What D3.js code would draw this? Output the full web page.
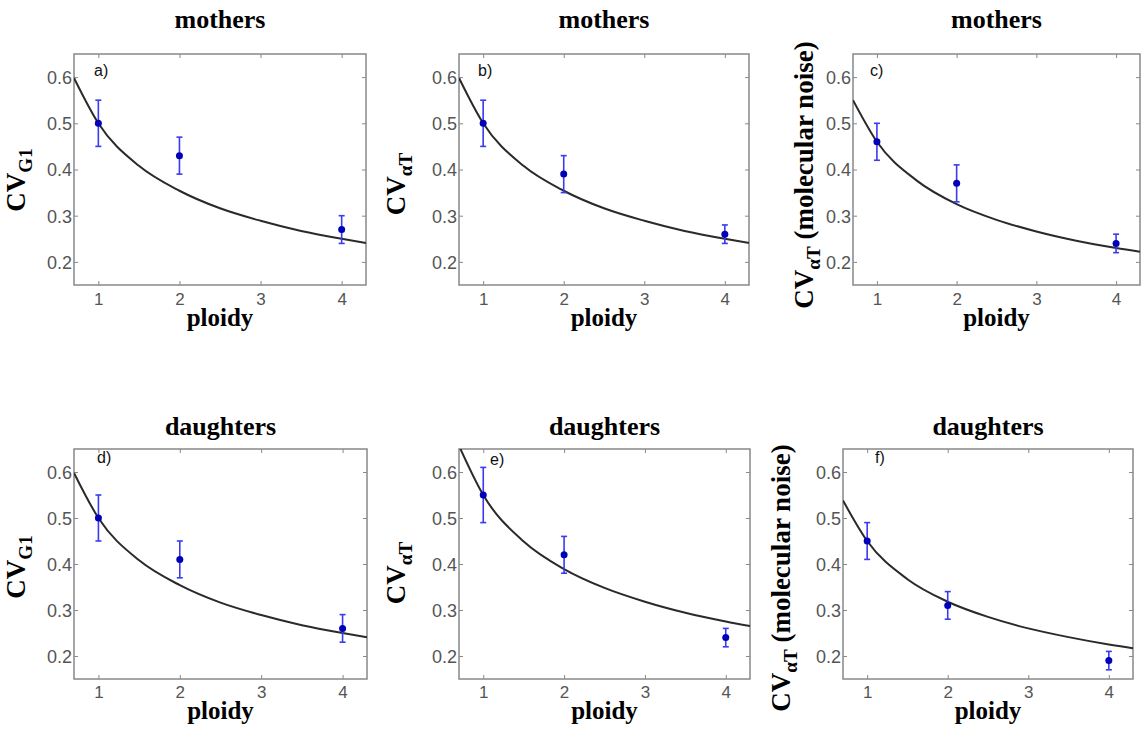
<!DOCTYPE html>
<html>
<head>
<meta charset="utf-8">
<script src="https://cdn.jsdelivr.net/npm/d3@7"></script>
<style>
  body { margin: 0; background: #fff; }
  svg { display: block; }
</style>
</head>
<body>
<div id="chart"></div>
<script>
// ---- data ----
const panelIds = ['a', 'b', 'c', 'd', 'e', 'f'];
const panelTitles = ['mothers', 'mothers', 'mothers', 'daughters', 'daughters', 'daughters'];
const ySubs = ['G1', 'αT', 'αT', 'G1', 'αT', 'αT'];
const yExtras = ['', '', ' (molecular noise)', '', '', ' (molecular noise)'];

const ploidy = [1, 2, 4];
// measured means, lower and upper error limits, per panel
const means = [
  [0.50, 0.43, 0.27],
  [0.50, 0.39, 0.26],
  [0.46, 0.37, 0.24],
  [0.50, 0.41, 0.26],
  [0.55, 0.42, 0.24],
  [0.45, 0.31, 0.19]
];
const lows = [
  [0.45, 0.39, 0.24],
  [0.45, 0.35, 0.24],
  [0.42, 0.33, 0.22],
  [0.45, 0.37, 0.23],
  [0.49, 0.38, 0.22],
  [0.41, 0.28, 0.17]
];
const highs = [
  [0.55, 0.47, 0.30],
  [0.55, 0.43, 0.28],
  [0.50, 0.41, 0.26],
  [0.55, 0.45, 0.29],
  [0.61, 0.46, 0.26],
  [0.49, 0.34, 0.21]
];

// fitted curve
const curveX = [0.7, 1, 1.5, 2, 2.5, 3, 3.5, 4, 4.3];
const curveY = [
  [0.598, 0.500, 0.408, 0.354, 0.316, 0.289, 0.267, 0.250, 0.241],
  [0.598, 0.500, 0.408, 0.354, 0.316, 0.289, 0.267, 0.250, 0.241],
  [0.550, 0.460, 0.376, 0.325, 0.291, 0.266, 0.246, 0.230, 0.222],
  [0.598, 0.500, 0.408, 0.354, 0.316, 0.289, 0.267, 0.250, 0.241],
  [0.657, 0.550, 0.449, 0.389, 0.348, 0.318, 0.294, 0.275, 0.265],
  [0.538, 0.450, 0.367, 0.318, 0.285, 0.260, 0.241, 0.225, 0.217]
];

const xTicks = [1, 2, 3, 4];
const yTicks = [0.2, 0.3, 0.4, 0.5, 0.6];

// ---- layout (pixels) ----
const layout = [
  {l: 74,  r: 366,  t: 54,  b: 285, titleY: 28,  xlabY: 326, tickY: 305, labX: 20, labY: 22, ylX: 25,  ylY: 180},
  {l: 459, r: 749,  t: 54,  b: 285, titleY: 28,  xlabY: 326, tickY: 305, labX: 19, labY: 22, ylX: 405, ylY: 184},
  {l: 853, r: 1140, t: 54,  b: 285, titleY: 28,  xlabY: 326, tickY: 305, labX: 17, labY: 22, ylX: 813, ylY: 175},
  {l: 74,  r: 367,  t: 449, b: 679, titleY: 435, xlabY: 719, tickY: 698, labX: 23, labY: 14, ylX: 25,  ylY: 567},
  {l: 459, r: 750,  t: 449, b: 679, titleY: 435, xlabY: 719, tickY: 698, labX: 31, labY: 16, ylX: 405, ylY: 573},
  {l: 843, r: 1133, t: 449, b: 679, titleY: 435, xlabY: 719, tickY: 698, labX: 32, labY: 14, ylX: 790, ylY: 578}
];

const width = 1141;
const height = 732;
const serif = "'Liberation Serif', 'Times New Roman', serif";
const sans = "'Liberation Sans', Arial, sans-serif";

const svg = d3.select('#chart').append('svg')
  .attr('width', width)
  .attr('height', height)
  .attr('viewBox', [0, 0, width, height]);

svg.append('defs').selectAll('clipPath')
  .data(layout)
  .join('clipPath')
    .attr('id', (_, i) => `clip-${i}`)
  .append('rect')
    .attr('x', d => d.l)
    .attr('y', d => d.t)
    .attr('width', d => d.r - d.l)
    .attr('height', d => d.b - d.t);

panelIds.forEach((id, i) => {
  const L = layout[i];
  const x = d3.scaleLinear().domain([0.7, 4.3]).range([L.l, L.r]);
  const y = d3.scaleLinear().domain([0.15, 0.65]).range([L.b, L.t]);
  const g = svg.append('g');

  // plot background
  g.append('rect')
    .attr('x', L.l).attr('y', L.t)
    .attr('width', L.r - L.l).attr('height', L.b - L.t)
    .attr('fill', '#fff');

  // axes with inward ticks on all four sides
  const tickStyle = sel => {
    sel.select('.domain').remove();
    sel.selectAll('.tick line').attr('stroke', '#888').attr('stroke-width', 1);
    sel.selectAll('.tick text').attr('fill', '#555')
      .attr('font-family', sans).attr('font-size', 18);
  };
  g.append('g')
    .attr('transform', `translate(0,${L.b})`)
    .call(d3.axisBottom(x).tickValues(xTicks).tickSizeInner(-4).tickSizeOuter(0).tickPadding(0).tickFormat(d3.format('d')))
    .call(tickStyle)
    .call(s => s.selectAll('.tick text').attr('y', L.tickY - L.b).attr('dy', 0).attr('font-size', 17));
  g.append('g')
    .attr('transform', `translate(0,${L.t})`)
    .call(d3.axisTop(x).tickValues(xTicks).tickSizeInner(-4).tickSizeOuter(0).tickFormat(''))
    .call(tickStyle);
  g.append('g')
    .attr('transform', `translate(${L.l},0)`)
    .call(d3.axisLeft(y).tickValues(yTicks).tickSizeInner(-4).tickSizeOuter(0).tickPadding(3).tickFormat(d3.format('.1f')))
    .call(tickStyle)
    .call(s => s.selectAll('.tick text').attr('x', -2).attr('dy', '0.36em'));
  g.append('g')
    .attr('transform', `translate(${L.r},0)`)
    .call(d3.axisRight(y).tickValues(yTicks).tickSizeInner(-4).tickSizeOuter(0).tickFormat(''))
    .call(tickStyle);

  // frame
  g.append('rect')
    .attr('x', L.l).attr('y', L.t)
    .attr('width', L.r - L.l).attr('height', L.b - L.t)
    .attr('fill', 'none')
    .attr('stroke', '#888')
    .attr('stroke-width', 1.5);

  // fitted curve
  const line = d3.line()
    .x(d => x(d[0]))
    .y(d => y(d[1]))
    .curve(d3.curveMonotoneX);
  g.append('path')
    .datum(d3.zip(curveX, curveY[i]))
    .attr('clip-path', `url(#clip-${i})`)
    .attr('d', line)
    .attr('fill', 'none')
    .attr('stroke', '#2a2a2a')
    .attr('stroke-width', 2);

  // error bars
  const pts = ploidy.map((p, j) => ({p, m: means[i][j], lo: lows[i][j], hi: highs[i][j]}));
  const eb = g.append('g')
    .attr('stroke', '#3a3af0')
    .attr('stroke-width', 1.6);
  eb.selectAll('line.v').data(pts).join('line').attr('class', 'v')
    .attr('x1', d => x(d.p)).attr('x2', d => x(d.p))
    .attr('y1', d => y(d.lo)).attr('y2', d => y(d.hi));
  eb.selectAll('line.hi').data(pts).join('line').attr('class', 'hi')
    .attr('x1', d => x(d.p) - 3).attr('x2', d => x(d.p) + 3)
    .attr('y1', d => y(d.hi)).attr('y2', d => y(d.hi));
  eb.selectAll('line.lo').data(pts).join('line').attr('class', 'lo')
    .attr('x1', d => x(d.p) - 3).attr('x2', d => x(d.p) + 3)
    .attr('y1', d => y(d.lo)).attr('y2', d => y(d.lo));
  g.selectAll('circle').data(pts).join('circle')
    .attr('cx', d => x(d.p))
    .attr('cy', d => y(d.m))
    .attr('r', 3.5)
    .attr('fill', '#0000b8');

  // panel letter
  g.append('text')
    .attr('x', L.l + L.labX)
    .attr('y', L.t + L.labY)
    .attr('font-family', sans)
    .attr('font-size', 16)
    .attr('fill', '#111')
    .text(`${id})`);

  // title
  g.append('text')
    .attr('x', (L.l + L.r) / 2)
    .attr('y', L.titleY)
    .attr('text-anchor', 'middle')
    .attr('font-family', serif)
    .attr('font-weight', 'bold')
    .attr('font-size', 26)
    .attr('fill', '#000')
    .text(panelTitles[i]);

  // x label
  g.append('text')
    .attr('x', (L.l + L.r) / 2)
    .attr('y', L.xlabY)
    .attr('text-anchor', 'middle')
    .attr('font-family', serif)
    .attr('font-weight', 'bold')
    .attr('font-size', 25)
    .attr('fill', '#000')
    .text('ploidy');

  // y label
  const yl = g.append('text')
    .attr('transform', `translate(${L.ylX},${L.ylY}) rotate(-90)`)
    .attr('text-anchor', 'middle')
    .attr('font-family', serif)
    .attr('font-weight', 'bold')
    .attr('font-size', 27)
    .attr('fill', '#000');
  yl.append('tspan').text('CV');
  yl.append('tspan').attr('font-size', 19).attr('dy', 7).text(ySubs[i]);
  if (yExtras[i]) yl.append('tspan').attr('dy', -7).text(yExtras[i]);
});
</script>
</body>
</html>
